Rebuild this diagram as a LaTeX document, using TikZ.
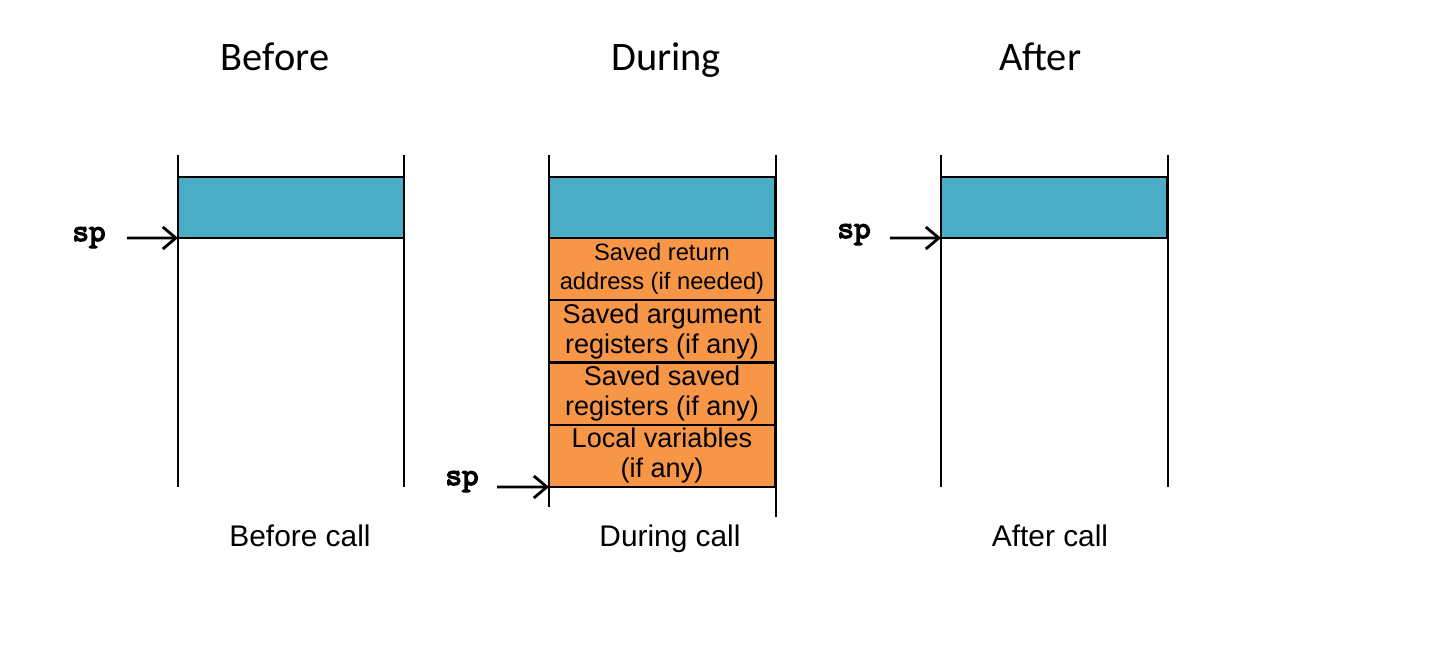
\documentclass[tikz,border=0pt]{standalone}
\usepackage{fontspec}
\setmainfont{Liberation Sans}
\newfontfamily\titlefont{Carlito}
\newfontfamily\spfont{lmmono10-regular.otf}[AutoFakeBold=4]
\usetikzlibrary{arrows.meta}
\definecolor{stackblue}{RGB}{75,172,198}
\definecolor{stackorange}{RGB}{247,150,70}
\tikzset {>={Straight Barb[length=2.6mm,width=4.4mm]}}
\tikzset{frame/.style={line width=1.6pt},
  slot/.style={draw,line width=1.3pt,minimum width=4.52cm,minimum height=1.245cm,
    inner sep=0pt,outer sep=0pt,anchor=north west,align=center,
    font=\fontsize{15.4}{17}\selectfont},
  heading/.style={anchor=base,font=\titlefont\fontsize{23}{26}\selectfont},
  caption/.style={anchor=base,font=\fontsize{17}{20}\selectfont},
  splabel/.style={anchor=base,font=\spfont\bfseries\fontsize{18}{20}\selectfont}}

\begin{document}
\begin{tikzpicture}[x=0.02cm,y=-0.02cm]
\useasboundingbox (0,0) rectangle (1450,646);
\node[heading] (t1) at (275,70) {Before};
\node[heading] (t2) at (666,70) {During};
\node[heading] (t3) at (1040,70) {After};
\foreach \x in {178,404,941,1168}
  \draw[frame] (\x,155) -- (\x,487);
\draw[frame] (549,155) -- (549,507);
\draw[frame] (776,155) -- (776,517);
% before
\node[slot,fill=stackblue,minimum height=1.22cm] (b1) at (178,177) {};
\node[splabel] (sp1) at (89,241) {sp};
\coordinate (a1) at (127,238);
\draw[->,frame] (a1) -- (b1.south west);
\node[caption] (c1) at (300,546) {Before call};
% during
\node[slot,fill=stackblue,minimum height=1.22cm] (d0) at (549,177) {};
\node[slot,fill=stackorange,font=\fontsize{13.5}{16.5}\selectfont] (d1) at (d0.south west) {Saved return\\address (if needed)};
\node[slot,fill=stackorange] (d2) at (d1.south west) {Saved argument\\registers (if any)};
\node[slot,fill=stackorange] (d3) at (d2.south west) {Saved saved\\registers (if any)};
\node[slot,fill=stackorange] (d4) at (d3.south west) {Local variables\\(if any)};
\node[splabel] (sp2) at (462,485) {sp};
\coordinate (a2) at (497,487);
\draw[->,frame] (a2) -- (d4.south west);
\node[caption] (c2) at (670,546) {During call};
% after
\node[slot,fill=stackblue,minimum height=1.22cm] (f1) at (941,177) {};
\node[splabel] (sp3) at (854,238) {sp};
\coordinate (a3) at (890,238);
\draw[->,frame] (a3) -- (f1.south west);
\node[caption] (c3) at (1050,546) {After call};
\end{tikzpicture}
\end{document}
